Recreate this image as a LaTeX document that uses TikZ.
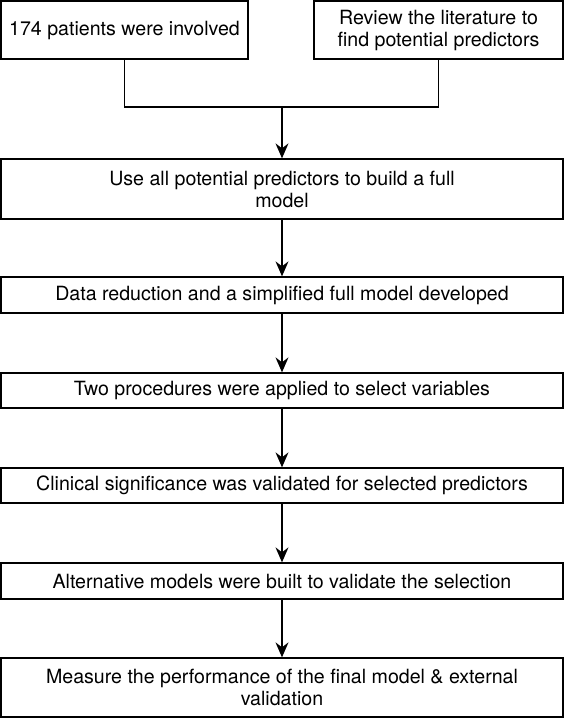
\documentclass[tikz,border=0pt]{standalone}
\usepackage{fontspec}
\setmainfont{TeX Gyre Heros}
\usepackage{tikz}
\usetikzlibrary{
		arrows.meta,
		positioning
	}
\tikzset{
		>={Stealth[length=7.5pt,width=6.5pt,inset=2.5pt]},
		box/.style={draw,rectangle,inner sep=0pt,align=center,
			font=\fontsize{9.8}{11}\selectfont},
		wide/.style={box,minimum width=281pt}
	}

\begin{document}
\begin{tikzpicture}[x=0.5pt,y=-0.5pt,line width=0.65pt]
          \useasboundingbox (0,0) rectangle (564,718);

          % top row
          \node[box,minimum width=123.5pt,minimum height=29pt] (pat) at (124.5,30) {174 patients were involved};
          \node[box,minimum width=124.5pt,minimum height=29pt] (lit) at (438.5,30) {Review the literature to\\find potential predictors};
          \coordinate (join) at (282,107);

          % main column
          \node[wide,minimum height=30pt] (full) at (282,189) {Use all potential predictors to build a full\\model};
          \node[wide,minimum height=18pt] (red) at (282,295) {Data reduction and a simplified full model developed};
          \node[wide,minimum height=17.5pt] (proc) at (282,390.5) {Two procedures were applied to select variables};
          \node[wide,minimum height=17.5pt] (clin) at (282,485.5) {Clinical significance was validated for selected predictors};
          \node[wide,minimum height=18pt] (alt) at (282,581) {Alternative models were built to validate the selection};
          \node[wide,minimum height=29.5pt] (perf) at (282,687.5) {Measure the performance of the final model \& external\\validation};

          \draw (pat.south) |- (join) -| (lit.south);
          \draw[->] (join) -- (full);
          \foreach \a/\b in {full/red,red/proc,proc/clin,clin/alt,alt/perf}
            \draw[->] (\a) -- (\b);

\end{tikzpicture}
\end{document}
